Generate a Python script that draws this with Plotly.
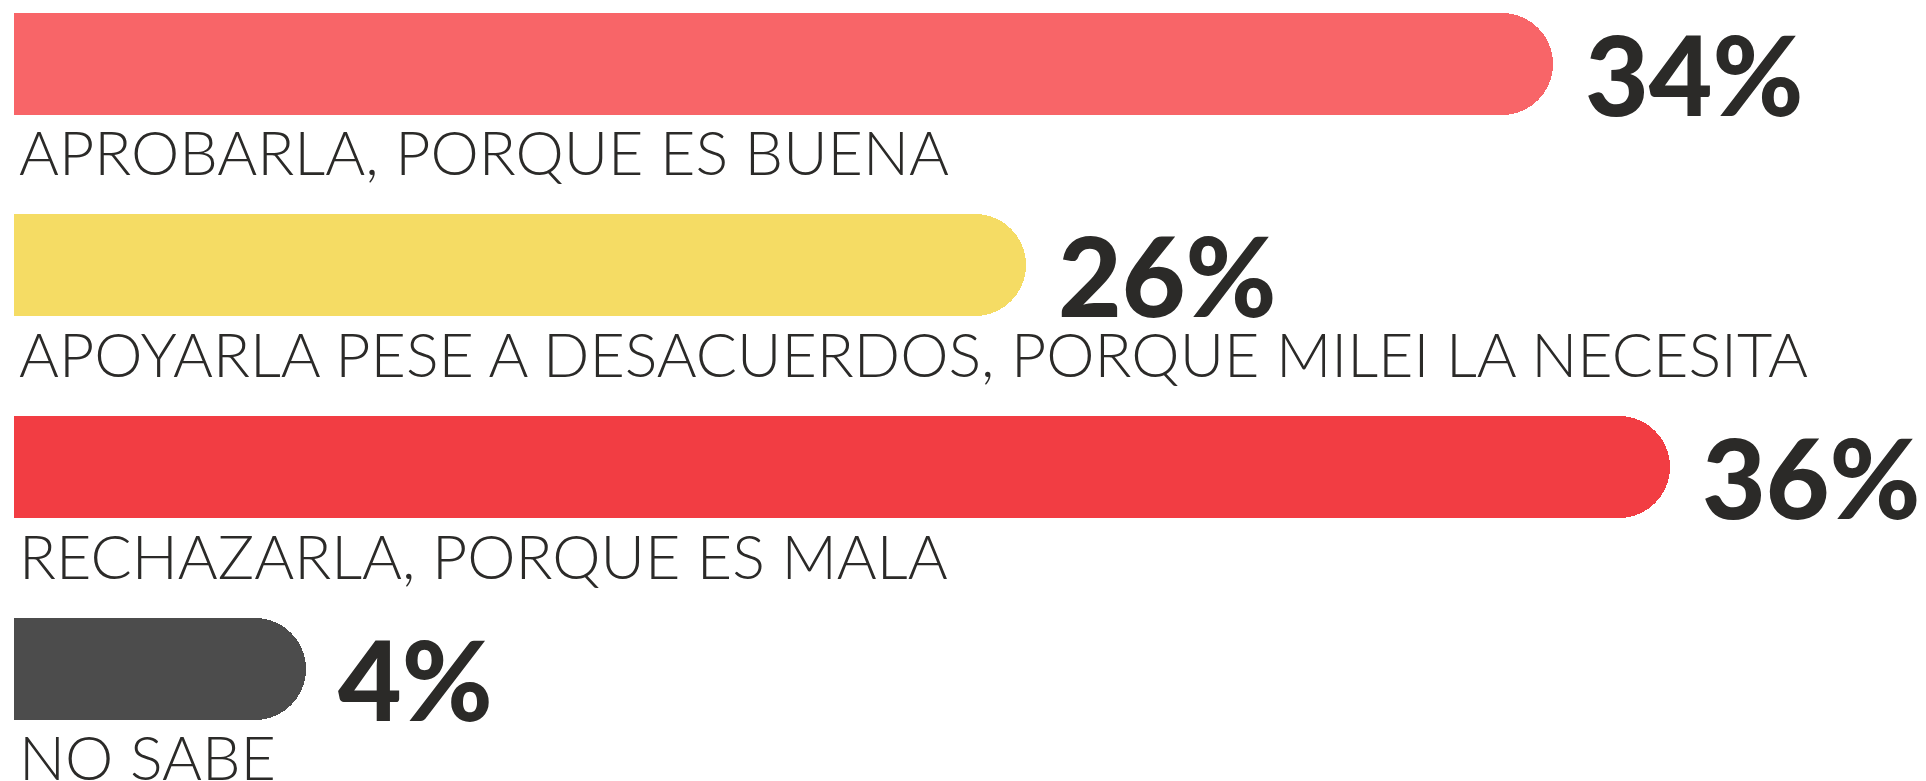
import plotly.graph_objects as go

# ---- data ----
categories = [
    "APROBARLA, PORQUE ES BUENA",
    "APOYARLA PESE A DESACUERDOS, PORQUE MILEI LA NECESITA",
    "RECHAZARLA, PORQUE ES MALA",
    "NO SABE",
]
percent_labels = [34, 26, 36, 4]
# drawn bar lengths (same units as the percentages)
bar_lengths = [33.45, 22.0, 36.0, 6.35]
bar_colors = ["#F86568", "#F5DC64", "#F23D43", "#4C4C4C"]

TEXT_COLOR = "#2B2A28"

fig = go.Figure()
fig.add_trace(go.Bar(
    x=bar_lengths,
    y=categories,
    orientation="h",
    marker=dict(color=bar_colors, line=dict(width=0), cornerradius="50%"),
    width=0.505,
    hoverinfo="skip",
    showlegend=False,
))

annotations = []
for cat, length, pct in zip(categories, bar_lengths, percent_labels):
    annotations.append(dict(
        x=length, y=cat, xref="x", yref="y",
        text=f"{pct}%", showarrow=False,
        xanchor="left", yanchor="middle", xshift=30, yshift=-9,
        font=dict(family="Lato", size=110, weight=900, color=TEXT_COLOR),
    ))
    annotations.append(dict(
        x=0, y=cat, xref="x", yref="y",
        text=cat, showarrow=False,
        xanchor="left", yanchor="middle", xshift=3, yshift=-88,
        font=dict(family="Lato", size=61, weight=300, color=TEXT_COLOR),
    ))

fig.update_layout(
    width=1926, height=781,
    margin=dict(l=6, r=0, t=0, b=0),
    paper_bgcolor="white", plot_bgcolor="white",
    xaxis=dict(range=[0, 41.74], visible=False, fixedrange=True),
    yaxis=dict(range=[3.595, -0.2755], visible=False, fixedrange=True,
               type="category", categoryorder="array", categoryarray=categories),
    annotations=annotations,
    bargap=0,
)

fig.write_html("out.html", config={"displayModeBar": False})
